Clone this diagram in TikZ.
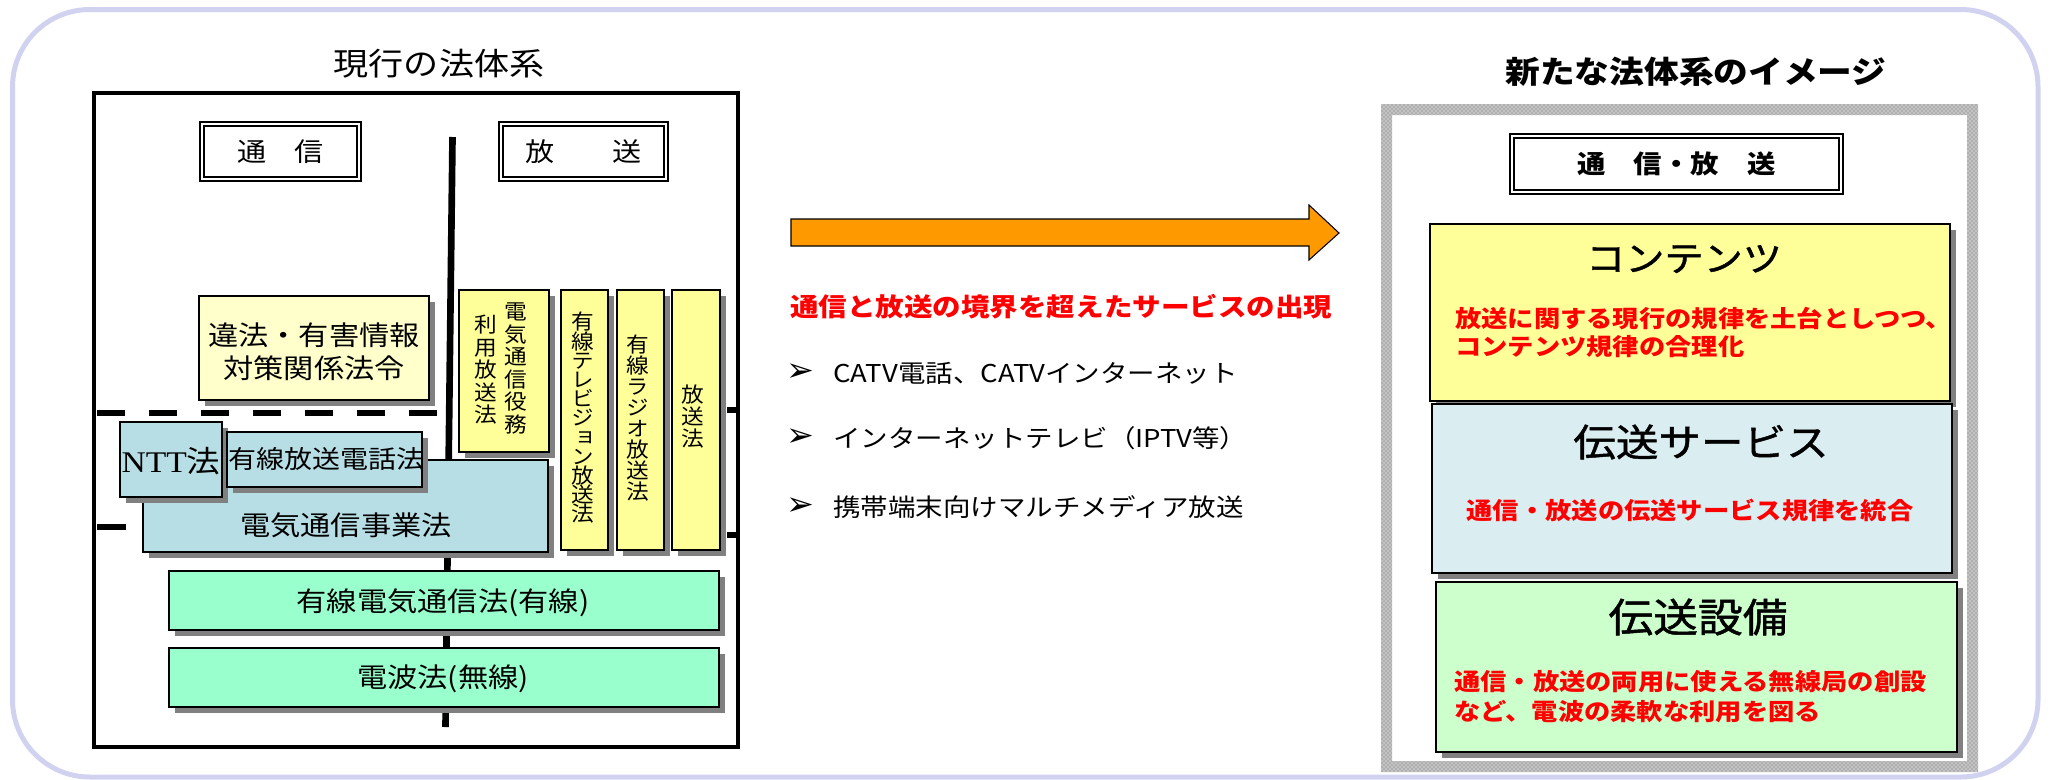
\documentclass[tikz,border=0pt]{standalone}
\usepackage{fontspec}
\setmainfont{Noto Sans CJK JP}[FakeStretch=1.12]
\newfontfamily\jpm{Noto Sans CJK JP}[FakeStretch=1.12,FakeBold=1.2]
\newfontfamily\nttfont{Liberation Serif}[FakeStretch=1.12]
\newfontfamily\vjp{Noto Sans CJK JP}[FakeStretch=1.08,RawFeature=+vert]
\newfontfamily\dvfont{DejaVu Sans}
\usetikzlibrary{fit,shadows,patterns}
\newcommand\vtight{\lineskiplimit=-50pt\relax}

\definecolor{lav}{RGB}{208,210,240}
\definecolor{ylw}{RGB}{255,255,153}
\definecolor{ylwp}{RGB}{255,255,204}
\definecolor{blu}{RGB}{183,222,228}
\definecolor{grn}{RGB}{153,255,204}
\definecolor{blutwo}{RGB}{218,238,242}
\definecolor{grntwo}{RGB}{204,255,204}
\definecolor{shd}{RGB}{128,128,128}
\definecolor{org}{RGB}{255,153,0}
\definecolor{rd}{RGB}{255,0,0}

\tikzset{
  box/.style={draw=black, line width=1.5pt, inner sep=0pt,
    drop shadow={shadow xshift=4.5pt, shadow yshift=-4.5pt, fill=shd, opacity=1}},
  dbox/.style={draw=black, fill=white, line width=1.2pt, double=white,
    double distance=2.2pt, inner sep=0pt},
  vtext/.style={align=center, inner sep=0pt},
  redl/.style={anchor=west, inner sep=0pt, text=rd,
    font=\bfseries\fontsize{17.6}{21}\selectfont},
  thick dash/.style={line width=4.5pt},
  bullet/.style={font=\dvfont\fontsize{25}{26}\selectfont, inner sep=0pt},
  item/.style={anchor=west, inner sep=0pt, font=\fontsize{18.4}{22}\selectfont},
}

\begin{document}
\begin{tikzpicture}[x=0.75pt,y=-0.75pt]
\useasboundingbox (0,0) rectangle (2049,779);
\draw[lav, line width=3.75pt, rounded corners=58pt] (12.5,9.5) rectangle (2038,777);

% ---------- left: current system ----------
\node[font=\fontsize{23.5}{28}\selectfont] (t1) at (439,64) {現行の法体系};
\node[draw, line width=2.6pt, inner sep=0pt, fit={(94,93) (738,747)}] (frameL) {};

\draw[thick dash, dash pattern=on 21pt off 18pt] (97,413) -- (438,413);
\draw[thick dash] (97,527) -- (126,527);
\draw[thick dash] (727,410) -- (737,410);
\draw[thick dash] (727,535) -- (737,535);
\coordinate (vtop) at (452.5,137);
\coordinate (vbot) at (445.5,727);
\draw[line width=5pt] (vtop) -- (vbot);

\node[dbox, fit={(202,124) (359,179)}] (tsu) {};
\node[font=\fontsize{19.5}{22}\selectfont] (tsuT) at (tsu.center) {通\hspace{1.08em}信};
\node[dbox, fit={(501,124) (666,179)}] (hou) {};
\node[font=\fontsize{19.5}{22}\selectfont] (houT) at (hou.center) {放\hspace{2.25em}送};

\node[box, fill=ylwp, fit={(199,296) (429,400)}] (ihou) {};
\node[align=center, font=\fontsize{20.25}{24.75}\selectfont] (ihouT) at (314,351.5) {違法・有害情報\\対策関係法令};

\node[box, fill=blu, fit={(143,460) (548,552)}] (denki) {};
\node[font=\fontsize{20.25}{24}\selectfont] (denkiT) at (346,525) {電気通信事業法};
\node[box, fill=blu, fit={(120,422) (222,497)}] (ntt) {};
\node[font=\fontsize{22.5}{26}\selectfont, inner sep=0pt] (nttT) at (171,461) {{\nttfont NTT}法};
\node[box, fill=blu, fit={(227,432) (422,487)}] (yusen) {};
\node[font=\fontsize{18.75}{22}\selectfont, inner sep=0pt] (yusenT) at (326,459) {有線放送電話法};

\node[box, fill=ylw, fit={(459,290) (549,452)}] (c1) {};
\node[box, fill=ylw, fit={(561,290) (608,550)}] (c2) {};
\node[box, fill=ylw, fit={(617,290) (664,550)}] (c3) {};
\node[box, fill=ylw, fit={(672,290) (720,550)}] (c4) {};
\node[vtext, font={\vjp\fontsize{15.75}{16.9}\selectfont\vtight}] (c1a) at (516,368.5) {電\\気\\通\\信\\役\\務};
\node[vtext, font={\vjp\fontsize{15.75}{16.9}\selectfont\vtight}] (c1b) at (486,370) {利\\用\\放\\送\\法};
\node[vtext, font={\vjp\fontsize{15.75}{14.4}\selectfont\vtight}] (c2T) at (583,418) {有\\線\\テ\\レ\\ビ\\ジ\\ョ\\ン\\放\\送\\法};
\node[vtext, font={\vjp\fontsize{15.75}{15.75}\selectfont\vtight}] (c3T) at (638,418) {有\\線\\ラ\\ジ\\オ\\放\\送\\法};
\node[vtext, font={\vjp\fontsize{15.75}{16.5}\selectfont\vtight}] (c4T) at (693,417) {放\\送\\法};

\node[box, fill=grn, fit={(169,571) (719,630)}] (yden) {};
\node[font=\fontsize{20.25}{24}\selectfont] (ydenT) at (443,603) {有線電気通信法(有線)};
\node[box, fill=grn, fit={(169,648) (719,707)}] (denpa) {};
\node[font=\fontsize{20.25}{24}\selectfont] (denpaT) at (443,679) {電波法(無線)};

% ---------- middle ----------
\draw[fill=org, line width=0.8pt] (791,219) -- (1309,219) -- (1309,205) -- (1339,233)
  -- (1309,260) -- (1309,246) -- (791,246) -- cycle;
\node[anchor=west, inner sep=0pt, text=rd, font=\bfseries\fontsize{19.1}{22}\selectfont] (head) at (790,307) {通信と放送の境界を超えたサービスの出現};
\node[bullet] (b1) at (800,373) {➢};
\node[bullet] (b2) at (800,438) {➢};
\node[bullet] (b3) at (800,507) {➢};
\node[item] (l1) at (833,373) {CATV電話、CATVインターネット};
\node[item] (l2) at (833,438) {インターネットテレビ（IPTV等）};
\node[item] (l3) at (833,507) {携帯端末向けマルチメディア放送};

% ---------- right: new system ----------
\node[font=\bfseries\fontsize{23.25}{28}\selectfont] (t2) at (1696,72) {新たな法体系のイメージ};
\fill[gray!62, even odd rule] (1381,104) rectangle (1978,772) (1392,115) rectangle (1967,761);
\fill[pattern=crosshatch dots, pattern color=white, even odd rule] (1381,104) rectangle (1978,772) (1392,115) rectangle (1967,761);

\node[dbox, fit={(1512,136) (1841,192)}] (tb) {};
\node[font=\bfseries\fontsize{19}{22}\selectfont] (tbT) at (tb.center) {通　信・放　送};

\node[box, fill=ylw, fit={(1430,224) (1950,401)}] (cont) {};
\node[font=\jpm\fontsize{26.25}{30}\selectfont] (contT) at (1684,259) {コンテンツ};
\node[redl] (contR1) at (1455,319) {放送に関する現行の規律を土台としつつ、};
\node[redl] (contR2) at (1455,347) {コンテンツ規律の合理化};

\node[box, fill=blutwo, fit={(1432,404) (1952,573)}] (dens) {};
\node[font=\jpm\fontsize{28.5}{32}\selectfont] (densT) at (1701,442) {伝送サービス};
\node[text=rd, inner sep=0pt, font=\bfseries\fontsize{17.6}{21}\selectfont] (densR) at (1690,510) {通信・放送の伝送サービス規律を統合};

\node[box, fill=grntwo, fit={(1436,582) (1957,752)}] (setsu) {};
\node[font=\jpm\fontsize{30}{34}\selectfont] (setsuT) at (1698,617) {伝送設備};
\node[redl] (setsuR1) at (1454,682) {通信・放送の両用に使える無線局の創設};
\node[redl] (setsuR2) at (1454,712) {など、電波の柔軟な利用を図る};
\end{tikzpicture}
\end{document}
